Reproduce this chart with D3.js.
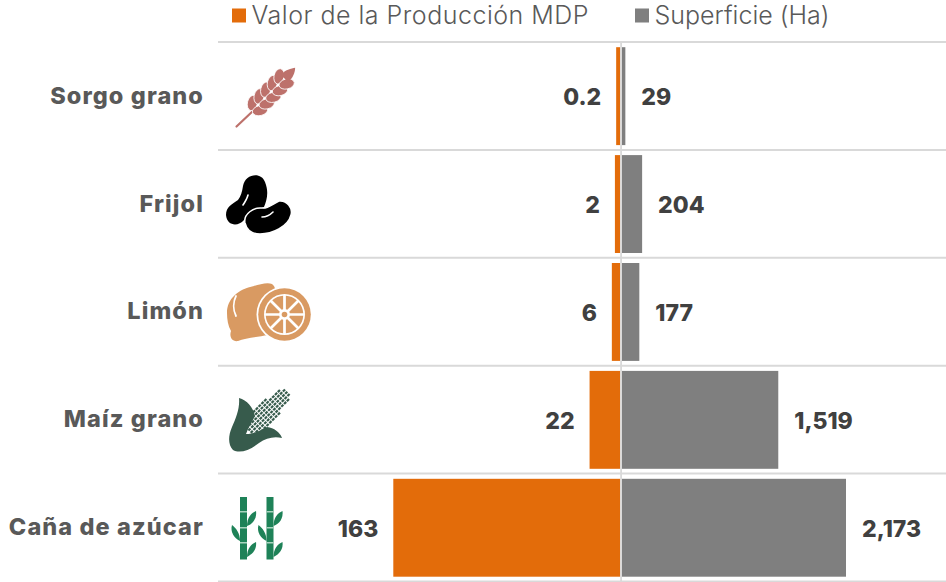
<!DOCTYPE html>
<html>
<head>
<meta charset="utf-8">
<script src="https://cdn.jsdelivr.net/npm/d3@7/dist/d3.min.js"></script>
<style>
  html, body { margin: 0; padding: 0; background: #fff; }
  text { font-family: Inter, "Open Sans", sans-serif; }
</style>
</head>
<body>
<div id="chart"></div>
<script>
// Data
const cultivos = ['Sorgo grano', 'Frijol', 'Limón', 'Maíz grano', 'Caña de azúcar'];
const valorEtiquetas = ['0.2', '2', '6', '22', '163'];
const superficieEtiquetas = ['29', '204', '177', '1,519', '2,173'];
// bar lengths as drawn (the thinnest bars are wider than their label)
const valorBarras = [2.9, 3.8, 6, 22, 163];
const superficie = [42, 204, 177, 1519, 2173];
const leyenda = ['Valor de la Producción MDP', 'Superficie (Ha)'];

const width = 946, height = 582;
const naranja = '#e36c0a', gris = '#7f7f7f', linea = '#d9d9d9';

const svg = d3.select('#chart').append('svg')
    .attr('width', width)
    .attr('height', height)
    .style('display', 'block');

const y = d3.scaleBand().domain(cultivos).range([42, 581.5]);
const xValor = d3.scaleLinear().domain([0, 163]).range([620.2, 393.3]);
const xSup = d3.scaleLinear().domain([0, 2173]).range([621, 846]);

// Row separators
svg.selectAll('.sep')
    .data(d3.range(cultivos.length + 1))
    .join('line')
    .attr('class', 'sep')
    .attr('x1', 218).attr('x2', 946)
    .attr('y1', i => 42 + i * y.step())
    .attr('y2', i => 42 + i * y.step())
    .attr('stroke', linea)
    .attr('stroke-width', 2);

// Bars
svg.selectAll('.valor')
    .data(cultivos)
    .join('rect')
    .attr('class', 'valor')
    .attr('x', (d, i) => xValor(valorBarras[i]))
    .attr('y', d => y(d) + 5.2)
    .attr('width', (d, i) => xValor(0) - xValor(valorBarras[i]))
    .attr('height', y.bandwidth() - 10)
    .attr('fill', naranja);

svg.selectAll('.superficie')
    .data(cultivos)
    .join('rect')
    .attr('class', 'superficie')
    .attr('x', xSup(0))
    .attr('y', d => y(d) + 5.2)
    .attr('width', (d, i) => xSup(superficie[i]) - xSup(0))
    .attr('height', y.bandwidth() - 10)
    .attr('fill', gris);

// Center axis
svg.append('line')
    .attr('x1', 621.1).attr('x2', 621.1)
    .attr('y1', 42).attr('y2', 582)
    .attr('stroke', linea)
    .attr('stroke-width', 1.8);

// Category labels
svg.selectAll('.cat')
    .data(cultivos)
    .join('text')
    .attr('class', 'cat')
    .attr('x', 204)
    .attr('y', d => y(d) + y.bandwidth() / 2 - 0.5)
    .attr('dy', '0.35em')
    .attr('text-anchor', 'end')
    .attr('fill', '#595959')
    .style('font-size', '23.5px')
    .style('font-weight', 800)
    .style('letter-spacing', '1.1px')
    .text(d => d);

// Value labels
svg.selectAll('.lblValor')
    .data(cultivos)
    .join('text')
    .attr('class', 'lblValor')
    .attr('x', (d, i) => xValor(valorBarras[i]) - 15)
    .attr('y', d => y(d) + y.bandwidth() / 2 + 1)
    .attr('dy', '0.35em')
    .attr('text-anchor', 'end')
    .attr('fill', '#404040')
    .style('font-size', '23px')
    .style('font-weight', 800)
    .text((d, i) => valorEtiquetas[i]);

svg.selectAll('.lblSup')
    .data(cultivos)
    .join('text')
    .attr('class', 'lblSup')
    .attr('x', (d, i) => xSup(superficie[i]) + 16)
    .attr('y', d => y(d) + y.bandwidth() / 2 + 1)
    .attr('dy', '0.35em')
    .attr('fill', '#404040')
    .style('font-size', '23px')
    .style('font-weight', 800)
    .text((d, i) => superficieEtiquetas[i]);

// Legend
const leyX = [232, 635];
const leyCol = [naranja, gris];
const leyAncho = [337, 175];
leyenda.forEach((t, i) => {
    svg.append('rect')
        .attr('x', leyX[i]).attr('y', 8.5)
        .attr('width', 14).attr('height', 14)
        .attr('fill', leyCol[i]);
    svg.append('text')
        .attr('x', leyX[i] + 19.5).attr('y', 24)
        .attr('fill', '#595959')
        .attr('textLength', leyAncho[i])
        .attr('lengthAdjust', 'spacing')
        .style('font-size', '25px')
        .style('font-weight', 300)
        .text(t);
});

// Icons, in page coordinates
const iconos = svg.append('g').attr('class', 'iconos');

// Wheat
const trigo = iconos.append('g').attr('fill', '#bd716b');
trigo.append('line')
    .attr('x1', 236.5).attr('y1', 126.5).attr('x2', 254).attr('y2', 110)
    .attr('stroke', '#bd716b').attr('stroke-width', 2.2).attr('stroke-linecap', 'round');
const espiga = trigo.append('g').attr('transform', 'translate(252,111) rotate(-45)');
[-1, 1].forEach(lado => {
    espiga.selectAll(null)
        .data(d3.range(5))
        .join('ellipse')
        .attr('rx', 7.8).attr('ry', 5)
        .attr('stroke', '#fff').attr('stroke-width', 0.8)
        .attr('transform', i => `translate(${6 + i * 9.4},${lado * 5.4}) rotate(${lado * 32})`);
});
espiga.append('path').attr('d', 'M46,-5 C52,-6 58,-2 61,0 C58,3 52,6 46,5 Z');

// Beans
const frijol = iconos.append('g').attr('fill', '#000');
frijol.append('path')
    .attr('d', 'M243,186 C245,174 261,171 265,182 C269,192 267,200 264,207 C258,210 249,213 244,220 C238,227 227,226 226,215 C226,207 232,204 238,200 C241,196 242,192 243,186 Z');
frijol.append('path')
    .attr('stroke', '#fff').attr('stroke-width', 1.5)
    .attr('d', 'M245,223 C243,214 254,207 262,208 C268,209 272,204 279,201 C287,200 293,208 291,215 C288,227 272,234 260,234 C252,234 247,231 245,223 Z');
frijol.append('path')
    .attr('fill', 'none').attr('stroke', '#fff').attr('stroke-width', 1.6).attr('stroke-linecap', 'round')
    .attr('d', 'M248,195 C247,199 245,202 243,205 M262,217 C266,217 270,215 273,212');

// Lemon
const limon = iconos.append('g').attr('fill', '#d99a62');
limon.append('path')
    .attr('d', 'M227,313 C227,299 238,289 254,286 C260,284 268,282 272,284 C276,287 276,292 272,296 L268,335 C258,337 245,338 238,341 C232,342 229,337 231,331 C228,326 227,319 227,313 Z');
limon.append('path')
    .attr('fill', 'none').attr('stroke', '#fff').attr('stroke-width', 1.8).attr('stroke-linecap', 'round')
    .attr('d', 'M236,296 C233,302 233,310 236,316');
const rodaja = limon.append('g').attr('transform', 'translate(284.5,314.5)');
rodaja.append('circle').attr('r', 28).attr('fill', '#fff');
rodaja.append('circle').attr('r', 26.3);
rodaja.append('circle').attr('r', 20.5).attr('fill', '#fff');
const gajo = d3.arc().innerRadius(5.5).outerRadius(18.8).padAngle(0.14);
rodaja.selectAll(null)
    .data(d3.range(8))
    .join('path')
    .attr('d', i => gajo({startAngle: i * Math.PI / 4, endAngle: (i + 1) * Math.PI / 4}));
rodaja.append('circle').attr('r', 2.8);

// Corn
const verdeMaiz = '#375b4c';
const maiz = iconos.append('g').attr('fill', verdeMaiz);
const mazorca = maiz.append('g').attr('transform', 'translate(247,432) rotate(-45)');
d3.cross(d3.range(14), d3.range(-3, 4)).forEach(([a, b]) => {
    if (Math.abs(b) * 3.2 > 11 * Math.sqrt(Math.max(0, 1 - Math.pow(a / 14, 3)))) return;
    mazorca.append('rect')
        .attr('x', 2 + a * 4).attr('y', b * 3.2 - 1.1)
        .attr('width', 3).attr('height', 2.2);
});
maiz.append('path')
    .attr('d', 'M239,398 C247,400 253,407 255,416 C252,422 248,428 246,434 C254,434 262,430 267,427 C274,428 280,432 282,438 C274,436 266,438 259,443 C250,450 240,454 233,450 C228,445 228,436 232,427 C236,418 240,408 239,398 Z');

// Bamboo
const verdeCana = '#1e8258';
[0, 26.5].forEach(dx => {
    const cana = iconos.append('g')
        .attr('transform', `translate(${dx},0)`)
        .attr('fill', verdeCana);
    cana.append('rect').attr('x', 240).attr('y', 497).attr('width', 7).attr('height', 62.5);
    [511, 527, 542].forEach(ny => {
        cana.append('rect').attr('x', 240).attr('y', ny).attr('width', 7).attr('height', 1.5).attr('fill', '#a9d4bf');
    });
    cana.append('path').attr('d', 'M247,526 C247,518 251,513 256,511 C257,518 253,524 247,526 Z');
    cana.append('path').attr('d', 'M247,557 C247,549 251,544 256,542 C257,549 253,554 247,557 Z');
    cana.append('path').attr('d', 'M240,541 C240,533 236,528 232,525 C230,532 234,538 240,541 Z');
});
</script>
</body>
</html>
